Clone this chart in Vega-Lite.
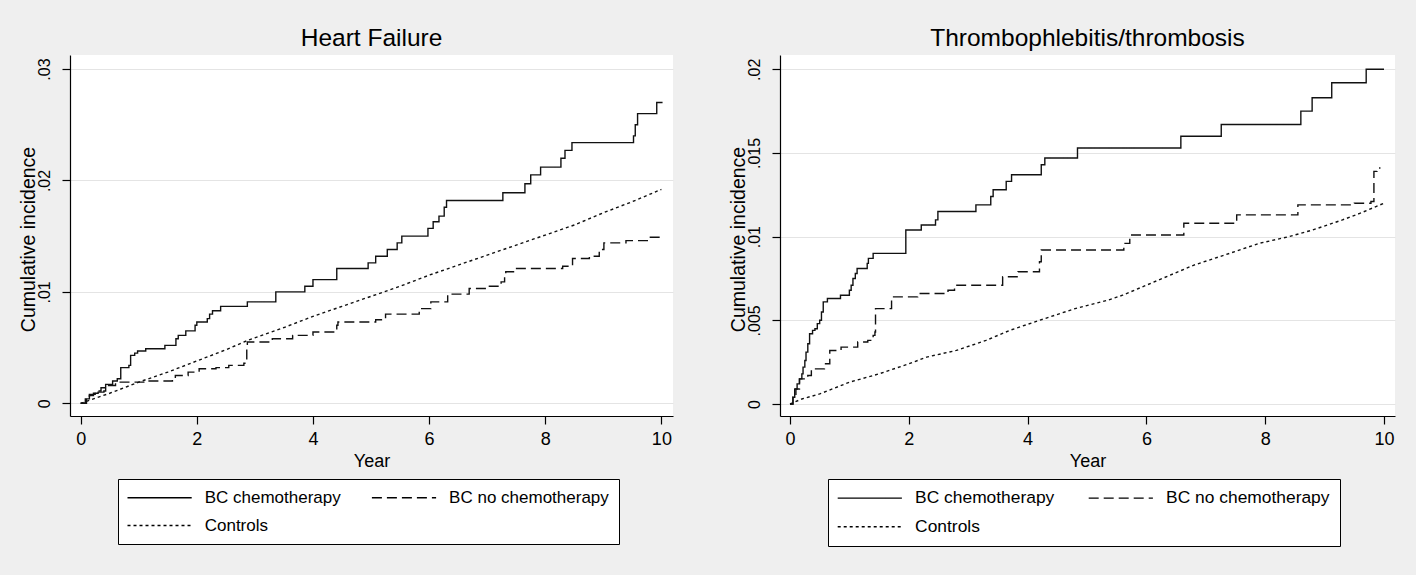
{
  "$schema": "https://vega.github.io/schema/vega-lite/v6.json",
  "background": "#efefef",
  "padding": {"left": 17, "top": 25, "right": 21, "bottom": 28},
  "spacing": 54,
  "config": {
    "font": "Liberation Sans",
    "view": {"fill": "white", "stroke": null},
    "axis": {
      "domainColor": "black", "tickColor": "black", "labelColor": "black", "titleColor": "black",
      "titleFontWeight": "normal", "domainWidth": 1.2, "tickWidth": 1.2, "tickSize": 8
    },
    "axisX": {"grid": false, "labelFontSize": 18, "titleFontSize": 18, "labelPadding": 6, "titlePadding": 4},
    "axisY": {
      "grid": true, "gridColor": "#e4e4e4", "gridWidth": 1,
      "labelAngle": -90, "labelAlign": "center", "labelBaseline": "bottom",
      "labelFontSize": 16, "labelPadding": 10, "titleFontSize": 19.5, "titlePadding": -2, "titleY": 184
    },
    "legend": {
      "orient": "none", "direction": "horizontal", "columns": 2, "symbolType": "M-5.35,0L5.35,0", "symbolSize": 144, "symbolOffset": 23.1,
      "symbolStrokeWidth": 1.4, "symbolStrokeColor": "black", "labelFontSize": 17, "labelColor": "black",
      "labelOffset": 36.6, "columnPadding": 27.4, "rowPadding": 10, "padding": 10,
      "strokeColor": "black", "fillColor": "white", "labelLimit": 400
    },
    "title": {"fontSize": 24.5, "fontWeight": "normal", "color": "black", "anchor": "middle", "offset": 4}
  },
  "resolve": {"scale": {"strokeDash": "independent"}, "legend": {"strokeDash": "independent"}},
  "datasets": {
    "hf": [
      {"group": "BC chemotherapy", "year": 0, "ci": 0},
      {"group": "BC chemotherapy", "year": 0.10, "ci": 0.0004},
      {"group": "BC chemotherapy", "year": 0.15, "ci": 0.0007},
      {"group": "BC chemotherapy", "year": 0.22, "ci": 0.0009},
      {"group": "BC chemotherapy", "year": 0.30, "ci": 0.0010},
      {"group": "BC chemotherapy", "year": 0.40, "ci": 0.0011},
      {"group": "BC chemotherapy", "year": 0.43, "ci": 0.0017},
      {"group": "BC chemotherapy", "year": 0.55, "ci": 0.0020},
      {"group": "BC chemotherapy", "year": 0.63, "ci": 0.0022},
      {"group": "BC chemotherapy", "year": 0.69, "ci": 0.0032},
      {"group": "BC chemotherapy", "year": 0.83, "ci": 0.0034},
      {"group": "BC chemotherapy", "year": 0.86, "ci": 0.0043},
      {"group": "BC chemotherapy", "year": 0.93, "ci": 0.0045},
      {"group": "BC chemotherapy", "year": 0.98, "ci": 0.0047},
      {"group": "BC chemotherapy", "year": 1.12, "ci": 0.0049},
      {"group": "BC chemotherapy", "year": 1.45, "ci": 0.0052},
      {"group": "BC chemotherapy", "year": 1.64, "ci": 0.0058},
      {"group": "BC chemotherapy", "year": 1.68, "ci": 0.0061},
      {"group": "BC chemotherapy", "year": 1.81, "ci": 0.0065},
      {"group": "BC chemotherapy", "year": 1.97, "ci": 0.0070},
      {"group": "BC chemotherapy", "year": 2.00, "ci": 0.0073},
      {"group": "BC chemotherapy", "year": 2.18, "ci": 0.0076},
      {"group": "BC chemotherapy", "year": 2.22, "ci": 0.0080},
      {"group": "BC chemotherapy", "year": 2.27, "ci": 0.0083},
      {"group": "BC chemotherapy", "year": 2.41, "ci": 0.0087},
      {"group": "BC chemotherapy", "year": 2.87, "ci": 0.0091},
      {"group": "BC chemotherapy", "year": 3.36, "ci": 0.0100},
      {"group": "BC chemotherapy", "year": 3.86, "ci": 0.0105},
      {"group": "BC chemotherapy", "year": 4.00, "ci": 0.0111},
      {"group": "BC chemotherapy", "year": 4.41, "ci": 0.0121},
      {"group": "BC chemotherapy", "year": 4.95, "ci": 0.0126},
      {"group": "BC chemotherapy", "year": 5.08, "ci": 0.0132},
      {"group": "BC chemotherapy", "year": 5.28, "ci": 0.0138},
      {"group": "BC chemotherapy", "year": 5.45, "ci": 0.0144},
      {"group": "BC chemotherapy", "year": 5.53, "ci": 0.0150},
      {"group": "BC chemotherapy", "year": 5.98, "ci": 0.0157},
      {"group": "BC chemotherapy", "year": 6.07, "ci": 0.0163},
      {"group": "BC chemotherapy", "year": 6.17, "ci": 0.0168},
      {"group": "BC chemotherapy", "year": 6.26, "ci": 0.0176},
      {"group": "BC chemotherapy", "year": 6.30, "ci": 0.0182},
      {"group": "BC chemotherapy", "year": 7.27, "ci": 0.0189},
      {"group": "BC chemotherapy", "year": 7.65, "ci": 0.0197},
      {"group": "BC chemotherapy", "year": 7.75, "ci": 0.0205},
      {"group": "BC chemotherapy", "year": 7.92, "ci": 0.0212},
      {"group": "BC chemotherapy", "year": 8.27, "ci": 0.0220},
      {"group": "BC chemotherapy", "year": 8.34, "ci": 0.0227},
      {"group": "BC chemotherapy", "year": 8.46, "ci": 0.0234},
      {"group": "BC chemotherapy", "year": 9.52, "ci": 0.0240},
      {"group": "BC chemotherapy", "year": 9.55, "ci": 0.0250},
      {"group": "BC chemotherapy", "year": 9.59, "ci": 0.0260},
      {"group": "BC chemotherapy", "year": 9.92, "ci": 0.0270},
      {"group": "BC chemotherapy", "year": 10.02, "ci": 0.0270},
      {"group": "BC no chemotherapy", "year": 0, "ci": 0},
      {"group": "BC no chemotherapy", "year": 0.08, "ci": 0.0004},
      {"group": "BC no chemotherapy", "year": 0.15, "ci": 0.0008},
      {"group": "BC no chemotherapy", "year": 0.25, "ci": 0.0011},
      {"group": "BC no chemotherapy", "year": 0.35, "ci": 0.0014},
      {"group": "BC no chemotherapy", "year": 0.45, "ci": 0.0016},
      {"group": "BC no chemotherapy", "year": 0.60, "ci": 0.0019},
      {"group": "BC no chemotherapy", "year": 1.12, "ci": 0.0020},
      {"group": "BC no chemotherapy", "year": 1.58, "ci": 0.0022},
      {"group": "BC no chemotherapy", "year": 1.63, "ci": 0.0025},
      {"group": "BC no chemotherapy", "year": 1.85, "ci": 0.0028},
      {"group": "BC no chemotherapy", "year": 2.04, "ci": 0.0031},
      {"group": "BC no chemotherapy", "year": 2.33, "ci": 0.0032},
      {"group": "BC no chemotherapy", "year": 2.55, "ci": 0.0034},
      {"group": "BC no chemotherapy", "year": 2.81, "ci": 0.0036},
      {"group": "BC no chemotherapy", "year": 2.86, "ci": 0.0050},
      {"group": "BC no chemotherapy", "year": 2.87, "ci": 0.0055},
      {"group": "BC no chemotherapy", "year": 3.30, "ci": 0.0058},
      {"group": "BC no chemotherapy", "year": 3.65, "ci": 0.0061},
      {"group": "BC no chemotherapy", "year": 4.00, "ci": 0.0064},
      {"group": "BC no chemotherapy", "year": 4.41, "ci": 0.0070},
      {"group": "BC no chemotherapy", "year": 4.43, "ci": 0.0073},
      {"group": "BC no chemotherapy", "year": 5.08, "ci": 0.0075},
      {"group": "BC no chemotherapy", "year": 5.25, "ci": 0.0080},
      {"group": "BC no chemotherapy", "year": 5.83, "ci": 0.0085},
      {"group": "BC no chemotherapy", "year": 6.03, "ci": 0.0091},
      {"group": "BC no chemotherapy", "year": 6.32, "ci": 0.0098},
      {"group": "BC no chemotherapy", "year": 6.69, "ci": 0.0103},
      {"group": "BC no chemotherapy", "year": 6.98, "ci": 0.0105},
      {"group": "BC no chemotherapy", "year": 7.24, "ci": 0.0109},
      {"group": "BC no chemotherapy", "year": 7.30, "ci": 0.0115},
      {"group": "BC no chemotherapy", "year": 7.32, "ci": 0.0118},
      {"group": "BC no chemotherapy", "year": 7.49, "ci": 0.0121},
      {"group": "BC no chemotherapy", "year": 8.30, "ci": 0.0123},
      {"group": "BC no chemotherapy", "year": 8.47, "ci": 0.0130},
      {"group": "BC no chemotherapy", "year": 8.76, "ci": 0.0132},
      {"group": "BC no chemotherapy", "year": 8.93, "ci": 0.0138},
      {"group": "BC no chemotherapy", "year": 9.01, "ci": 0.0144},
      {"group": "BC no chemotherapy", "year": 9.39, "ci": 0.0146},
      {"group": "BC no chemotherapy", "year": 9.79, "ci": 0.0149},
      {"group": "BC no chemotherapy", "year": 10.0, "ci": 0.0150},
      {"group": "Controls", "year": 0, "ci": 0},
      {"group": "Controls", "year": 0.5, "ci": 0.0009},
      {"group": "Controls", "year": 1.0, "ci": 0.0019},
      {"group": "Controls", "year": 1.5, "ci": 0.0028},
      {"group": "Controls", "year": 2.0, "ci": 0.0038},
      {"group": "Controls", "year": 2.5, "ci": 0.0048},
      {"group": "Controls", "year": 2.9, "ci": 0.0057},
      {"group": "Controls", "year": 3.5, "ci": 0.0068},
      {"group": "Controls", "year": 4.0, "ci": 0.0078},
      {"group": "Controls", "year": 4.5, "ci": 0.0087},
      {"group": "Controls", "year": 5.0, "ci": 0.0096},
      {"group": "Controls", "year": 5.5, "ci": 0.0105},
      {"group": "Controls", "year": 6.0, "ci": 0.0115},
      {"group": "Controls", "year": 6.5, "ci": 0.0124},
      {"group": "Controls", "year": 7.0, "ci": 0.0133},
      {"group": "Controls", "year": 7.5, "ci": 0.0142},
      {"group": "Controls", "year": 8.0, "ci": 0.0151},
      {"group": "Controls", "year": 8.5, "ci": 0.0160},
      {"group": "Controls", "year": 9.0, "ci": 0.0171},
      {"group": "Controls", "year": 9.5, "ci": 0.0181},
      {"group": "Controls", "year": 10.0, "ci": 0.0192}
    ],
    "tt": [
      {"group": "BC chemotherapy", "year": 0, "ci": 0},
      {"group": "BC chemotherapy", "year": 0.05, "ci": 0.0004},
      {"group": "BC chemotherapy", "year": 0.08, "ci": 0.0009},
      {"group": "BC chemotherapy", "year": 0.12, "ci": 0.0012},
      {"group": "BC chemotherapy", "year": 0.16, "ci": 0.0015},
      {"group": "BC chemotherapy", "year": 0.20, "ci": 0.0018},
      {"group": "BC chemotherapy", "year": 0.22, "ci": 0.0022},
      {"group": "BC chemotherapy", "year": 0.25, "ci": 0.0026},
      {"group": "BC chemotherapy", "year": 0.27, "ci": 0.0031},
      {"group": "BC chemotherapy", "year": 0.30, "ci": 0.0036},
      {"group": "BC chemotherapy", "year": 0.33, "ci": 0.0042},
      {"group": "BC chemotherapy", "year": 0.38, "ci": 0.0044},
      {"group": "BC chemotherapy", "year": 0.42, "ci": 0.0045},
      {"group": "BC chemotherapy", "year": 0.46, "ci": 0.0048},
      {"group": "BC chemotherapy", "year": 0.50, "ci": 0.0050},
      {"group": "BC chemotherapy", "year": 0.53, "ci": 0.0055},
      {"group": "BC chemotherapy", "year": 0.56, "ci": 0.0061},
      {"group": "BC chemotherapy", "year": 0.63, "ci": 0.0063},
      {"group": "BC chemotherapy", "year": 0.85, "ci": 0.0065},
      {"group": "BC chemotherapy", "year": 1.00, "ci": 0.0068},
      {"group": "BC chemotherapy", "year": 1.03, "ci": 0.0071},
      {"group": "BC chemotherapy", "year": 1.06, "ci": 0.0075},
      {"group": "BC chemotherapy", "year": 1.10, "ci": 0.0078},
      {"group": "BC chemotherapy", "year": 1.13, "ci": 0.0081},
      {"group": "BC chemotherapy", "year": 1.30, "ci": 0.0084},
      {"group": "BC chemotherapy", "year": 1.32, "ci": 0.0087},
      {"group": "BC chemotherapy", "year": 1.40, "ci": 0.0090},
      {"group": "BC chemotherapy", "year": 1.95, "ci": 0.0104},
      {"group": "BC chemotherapy", "year": 2.21, "ci": 0.0107},
      {"group": "BC chemotherapy", "year": 2.45, "ci": 0.0110},
      {"group": "BC chemotherapy", "year": 2.49, "ci": 0.0115},
      {"group": "BC chemotherapy", "year": 3.13, "ci": 0.0119},
      {"group": "BC chemotherapy", "year": 3.38, "ci": 0.0124},
      {"group": "BC chemotherapy", "year": 3.42, "ci": 0.0128},
      {"group": "BC chemotherapy", "year": 3.64, "ci": 0.0133},
      {"group": "BC chemotherapy", "year": 3.73, "ci": 0.0137},
      {"group": "BC chemotherapy", "year": 4.23, "ci": 0.0143},
      {"group": "BC chemotherapy", "year": 4.29, "ci": 0.0147},
      {"group": "BC chemotherapy", "year": 4.84, "ci": 0.0153},
      {"group": "BC chemotherapy", "year": 6.58, "ci": 0.0160},
      {"group": "BC chemotherapy", "year": 7.26, "ci": 0.0167},
      {"group": "BC chemotherapy", "year": 8.60, "ci": 0.0175},
      {"group": "BC chemotherapy", "year": 8.79, "ci": 0.0183},
      {"group": "BC chemotherapy", "year": 9.12, "ci": 0.0192},
      {"group": "BC chemotherapy", "year": 9.70, "ci": 0.0200},
      {"group": "BC chemotherapy", "year": 10.0, "ci": 0.0200},
      {"group": "BC no chemotherapy", "year": 0, "ci": 0},
      {"group": "BC no chemotherapy", "year": 0.05, "ci": 0.0004},
      {"group": "BC no chemotherapy", "year": 0.10, "ci": 0.0009},
      {"group": "BC no chemotherapy", "year": 0.16, "ci": 0.0015},
      {"group": "BC no chemotherapy", "year": 0.30, "ci": 0.0017},
      {"group": "BC no chemotherapy", "year": 0.36, "ci": 0.0021},
      {"group": "BC no chemotherapy", "year": 0.58, "ci": 0.0024},
      {"group": "BC no chemotherapy", "year": 0.67, "ci": 0.0032},
      {"group": "BC no chemotherapy", "year": 0.86, "ci": 0.0034},
      {"group": "BC no chemotherapy", "year": 1.14, "ci": 0.0037},
      {"group": "BC no chemotherapy", "year": 1.31, "ci": 0.0038},
      {"group": "BC no chemotherapy", "year": 1.40, "ci": 0.0041},
      {"group": "BC no chemotherapy", "year": 1.43, "ci": 0.0043},
      {"group": "BC no chemotherapy", "year": 1.44, "ci": 0.0057},
      {"group": "BC no chemotherapy", "year": 1.71, "ci": 0.0064},
      {"group": "BC no chemotherapy", "year": 2.15, "ci": 0.0066},
      {"group": "BC no chemotherapy", "year": 2.66, "ci": 0.0068},
      {"group": "BC no chemotherapy", "year": 2.77, "ci": 0.0071},
      {"group": "BC no chemotherapy", "year": 3.58, "ci": 0.0076},
      {"group": "BC no chemotherapy", "year": 3.84, "ci": 0.0079},
      {"group": "BC no chemotherapy", "year": 4.20, "ci": 0.0085},
      {"group": "BC no chemotherapy", "year": 4.23, "ci": 0.0092},
      {"group": "BC no chemotherapy", "year": 5.62, "ci": 0.0096},
      {"group": "BC no chemotherapy", "year": 5.72, "ci": 0.0101},
      {"group": "BC no chemotherapy", "year": 6.63, "ci": 0.0108},
      {"group": "BC no chemotherapy", "year": 7.52, "ci": 0.0113},
      {"group": "BC no chemotherapy", "year": 8.55, "ci": 0.0119},
      {"group": "BC no chemotherapy", "year": 9.50, "ci": 0.0120},
      {"group": "BC no chemotherapy", "year": 9.78, "ci": 0.0121},
      {"group": "BC no chemotherapy", "year": 9.83, "ci": 0.0139},
      {"group": "BC no chemotherapy", "year": 9.88, "ci": 0.0141},
      {"group": "BC no chemotherapy", "year": 9.94, "ci": 0.0141},
      {"group": "Controls", "year": 0, "ci": 0},
      {"group": "Controls", "year": 0.2, "ci": 0.0003},
      {"group": "Controls", "year": 0.5, "ci": 0.0006},
      {"group": "Controls", "year": 1.0, "ci": 0.0013},
      {"group": "Controls", "year": 1.5, "ci": 0.0018},
      {"group": "Controls", "year": 2.0, "ci": 0.0024},
      {"group": "Controls", "year": 2.3, "ci": 0.0028},
      {"group": "Controls", "year": 2.8, "ci": 0.0032},
      {"group": "Controls", "year": 3.3, "ci": 0.0038},
      {"group": "Controls", "year": 3.7, "ci": 0.0044},
      {"group": "Controls", "year": 4.2, "ci": 0.0050},
      {"group": "Controls", "year": 4.8, "ci": 0.0057},
      {"group": "Controls", "year": 5.35, "ci": 0.0062},
      {"group": "Controls", "year": 5.6, "ci": 0.0065},
      {"group": "Controls", "year": 6.0, "ci": 0.0071},
      {"group": "Controls", "year": 6.8, "ci": 0.0083},
      {"group": "Controls", "year": 7.4, "ci": 0.0090},
      {"group": "Controls", "year": 7.9, "ci": 0.0096},
      {"group": "Controls", "year": 8.4, "ci": 0.0100},
      {"group": "Controls", "year": 8.8, "ci": 0.0104},
      {"group": "Controls", "year": 9.3, "ci": 0.0110},
      {"group": "Controls", "year": 9.6, "ci": 0.0114},
      {"group": "Controls", "year": 10.0, "ci": 0.0120}
    ]
  },
  "hconcat": [
    {
      "title": "Heart Failure",
      "width": 603,
      "height": 361,
      "data": {"name": "hf"},
      "encoding": {
        "x": {"field": "year", "type": "quantitative", "title": "Year",
              "scale": {"domain": [-0.184, 10.2], "nice": false, "zero": false},
              "axis": {"values": [0, 2, 4, 6, 8, 10]}},
        "y": {"field": "ci", "type": "quantitative", "title": "Cumulative incidence",
              "scale": {"domain": [-0.00114, 0.03126], "nice": false, "zero": false},
              "axis": {"values": [0, 0.01, 0.02, 0.03],
                       "labelExpr": "datum.value == 0 ? '0' : substring(format(datum.value, '.3~f'), 1)"}},
        "strokeDash": {"field": "group", "type": "nominal", "title": null,
              "scale": {"domain": ["BC chemotherapy", "BC no chemotherapy", "Controls"],
                        "range": [[1, 0], [10, 5], [3, 3]]},
              "legend": {"legendX": 48, "legendY": 424}}
      },
      "layer": [
        {"transform": [{"filter": "datum.group != 'Controls'"}],
         "mark": {"type": "line", "interpolate": "step-after", "color": "#111111", "strokeWidth": 1.4}},
        {"transform": [{"filter": "datum.group == 'Controls'"}],
         "mark": {"type": "line", "color": "#111111", "strokeWidth": 1.4}}
      ]
    },
    {
      "title": "Thrombophlebitis/thrombosis",
      "width": 615,
      "height": 361,
      "data": {"name": "tt"},
      "encoding": {
        "x": {"field": "year", "type": "quantitative", "title": "Year",
              "scale": {"domain": [-0.168, 10.185], "nice": false, "zero": false},
              "axis": {"values": [0, 2, 4, 6, 8, 10]}},
        "y": {"field": "ci", "type": "quantitative", "title": "Cumulative incidence",
              "scale": {"domain": [-0.000718, 0.020855], "nice": false, "zero": false},
              "axis": {"values": [0, 0.005, 0.01, 0.015, 0.02],
                       "labelExpr": "datum.value == 0 ? '0' : substring(format(datum.value, '.3~f'), 1)"}},
        "strokeDash": {"field": "group", "type": "nominal", "title": null,
              "scale": {"domain": ["BC chemotherapy", "BC no chemotherapy", "Controls"],
                        "range": [[1, 0], [10, 5], [3, 3]]},
              "legend": {"legendX": 48, "legendY": 424, "labelFontSize": 17.4, "columnPadding": 30}}
      },
      "layer": [
        {"transform": [{"filter": "datum.group != 'Controls'"}],
         "mark": {"type": "line", "interpolate": "step-after", "color": "#111111", "strokeWidth": 1.4}},
        {"transform": [{"filter": "datum.group == 'Controls'"}],
         "mark": {"type": "line", "color": "#111111", "strokeWidth": 1.4}}
      ]
    }
  ]
}
